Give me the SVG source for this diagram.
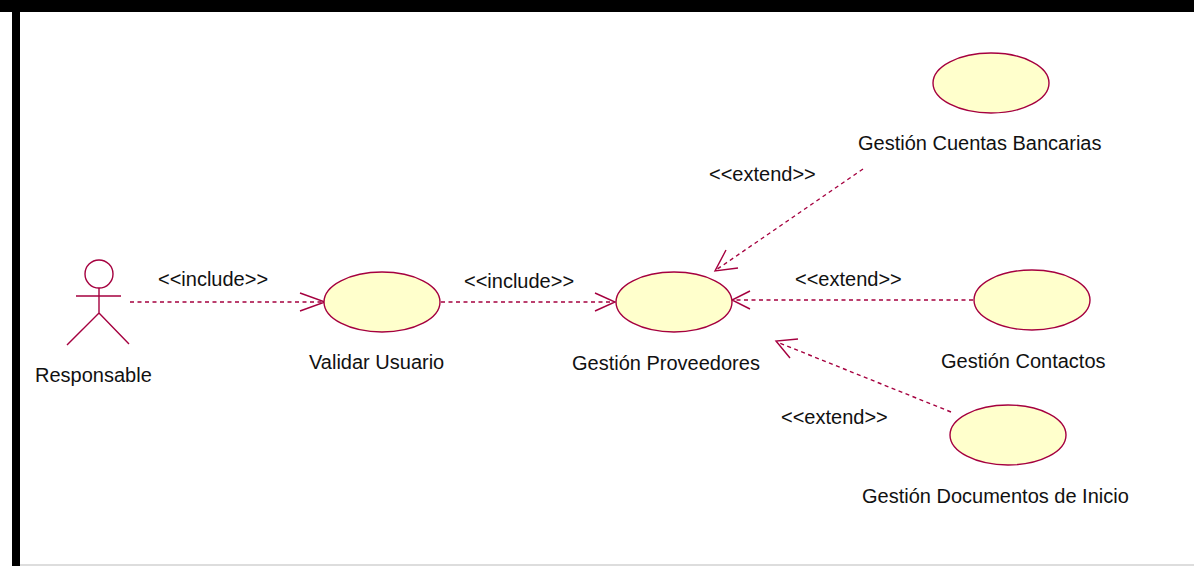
<svg xmlns="http://www.w3.org/2000/svg" width="1194" height="566" viewBox="0 0 1194 566">
<style>
.uc{fill:#ffffcc;stroke:#a5003f;stroke-width:1.4}
.act{fill:none;stroke:#a5003f;stroke-width:1.4}
.dep{fill:none;stroke:#a5003f;stroke-width:1.4;stroke-dasharray:4 3.5}
.head{fill:none;stroke:#a5003f;stroke-width:1.4}
text{font-family:"Liberation Sans",Arial,sans-serif;font-size:20px;fill:#111}
</style>
<rect width="1194" height="566" fill="#fff"/>
<path d="M0 0H1194V12H20V566H12V12H0Z" fill="#000" id="frame"/>
<rect x="20" y="564" width="1174" height="2" fill="#ddd"/>
<g id="connectors">
<path class="dep" d="M130 302H324"/><path class="head" d="M300 293L325 302L300 311"/>
<path class="dep" d="M441 302H613"/><path class="head" d="M595 293L615 302L595 311"/>
<path class="dep" d="M973 300H733"/><path class="head" d="M750 291L732 300L750 309"/>
<path class="dep" d="M863 169L716 270"/><path class="head" d="M726 250L715 271L738 268"/>
<path class="dep" d="M951 412L777 342"/><path class="head" d="M798 339L776 341L790 358"/>
</g>
<g id="responsable">
<circle class="act" cx="99" cy="274" r="14"/>
<path class="act" d="M99 288V313M76 296H121M67 345L99 313L129 344"/>
<text x="35" y="382">Responsable</text>
</g>
<g id="validar"><ellipse class="uc" cx="382" cy="302" rx="58" ry="30"/><text x="309" y="369">Validar Usuario</text></g>
<g id="proveedores"><ellipse class="uc" cx="674" cy="302" rx="58" ry="30"/><text x="572" y="370">Gestión Proveedores</text></g>
<g id="cuentas"><ellipse class="uc" cx="991" cy="83" rx="58" ry="30"/><text x="858" y="150">Gestión Cuentas Bancarias</text></g>
<g id="contactos"><ellipse class="uc" cx="1032" cy="300" rx="58" ry="30"/><text x="941" y="368">Gestión Contactos</text></g>
<g id="documentos"><ellipse class="uc" cx="1008" cy="435" rx="58" ry="30"/><text x="862" y="503">Gestión Documentos de Inicio</text></g>
<text x="158" y="286">&lt;&lt;include&gt;&gt;</text>
<text x="464" y="288">&lt;&lt;include&gt;&gt;</text>
<text x="709" y="181">&lt;&lt;extend&gt;&gt;</text>
<text x="795" y="286">&lt;&lt;extend&gt;&gt;</text>
<text x="781" y="424">&lt;&lt;extend&gt;&gt;</text>
</svg>
